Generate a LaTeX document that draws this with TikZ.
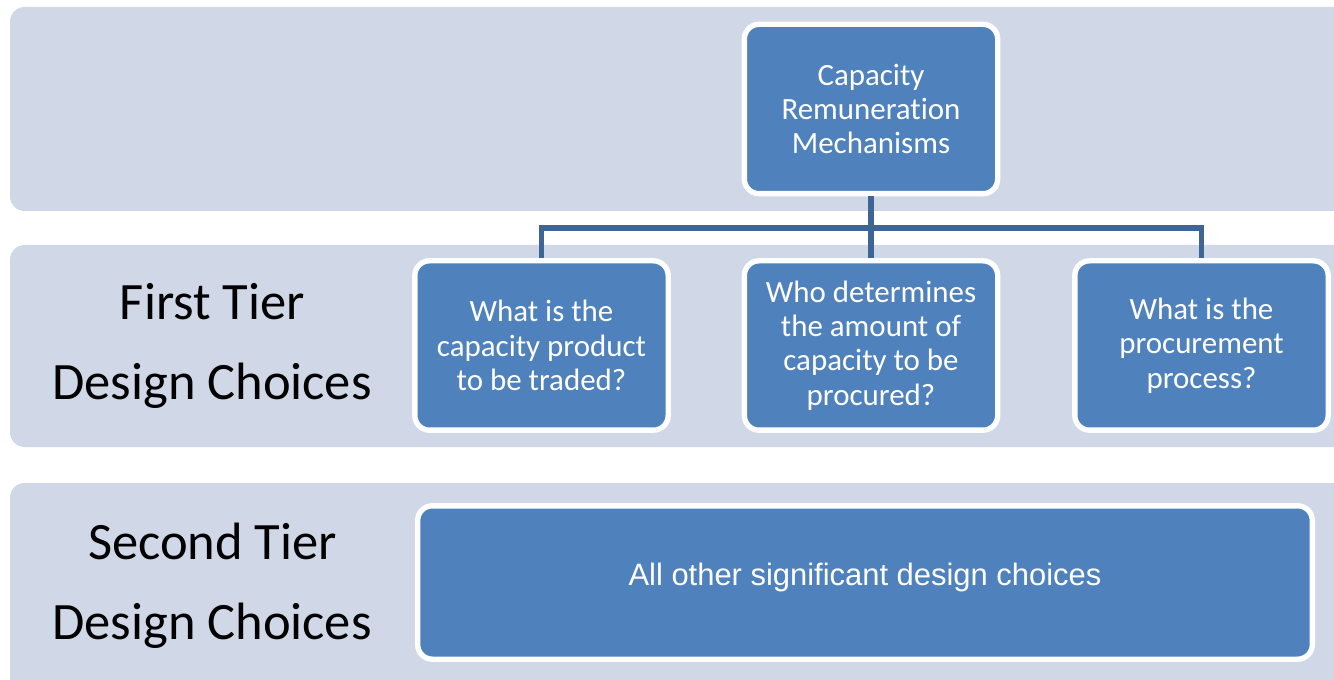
\documentclass[tikz,border=0pt]{standalone}
\usepackage{fontspec}
\setmainfont{Carlito}[Ligatures=NoCommon]
\newfontfamily\arialfont{Liberation Sans}
\definecolor{bandfill}{HTML}{D0D8E8}
\definecolor{boxfill}{HTML}{4F81BD}
\definecolor{linkcol}{HTML}{3E6596}
\begin{document}
\begin{tikzpicture}[x=0.75pt,y=-0.75pt,
  band/.style={fill=bandfill, rounded corners=11pt},
  qbox/.style={draw=white, line width=4pt, fill=boxfill, rounded corners=11pt,
    text=white, align=center, inner sep=0pt,
    font=\fontsize{23.2pt}{25.8pt}\selectfont,
    minimum width=190pt, minimum height=127pt},
  tierlabel/.style={anchor=base, font=\fontsize{39.4pt}{47pt}\selectfont},
  conn/.style={draw=linkcol, line width=4.2pt}]

\useasboundingbox (0,0) rectangle (1334,680);
\clip (0,0) rectangle (1334,680);

% background bands
\fill[band] (10,7) rectangle (1360,211);
\fill[band] (10,245) rectangle (1360,447);
\fill[band] (10,483) rectangle (1360,720);

% tier labels
\node[tierlabel] (t1a) at (212.5,320) {First Tier};
\node[tierlabel] (t1b) at (212,400) {Design Choices};
\node[tierlabel] (t2a) at (212.5,559) {Second Tier};
\node[tierlabel] (t2b) at (212,639) {Design Choices};

% hierarchy boxes
\node[qbox] (top) at (871,109) {Capacity\\Remuneration\\Mechanisms};
\node[qbox] (q1) at (541.5,345.5) {What is the\\capacity product\\to be traded?};
\node[qbox] (q2) at (871,345.5) {Who determines\\the amount of\\capacity to be\\procured?};
\node[qbox] (q3) at (1201.5,345.5) {What is the\\procurement\\process?};

% second tier box
\node[qbox, minimum width=671pt, minimum height=115pt] (all) at (865,582.5) {};
\node[text=white, font=\arialfont\fontsize{23.2pt}{28pt}\selectfont] (alltext) at (865,577)
  {All other significant design choices};

% connectors
\coordinate (bus) at (871,228);
\draw[conn] (top.south) -- (bus);
\draw[conn] (q1.north) |- (bus) -| (q3.north);
\draw[conn] (bus) -- (q2.north);
\end{tikzpicture}
\end{document}
